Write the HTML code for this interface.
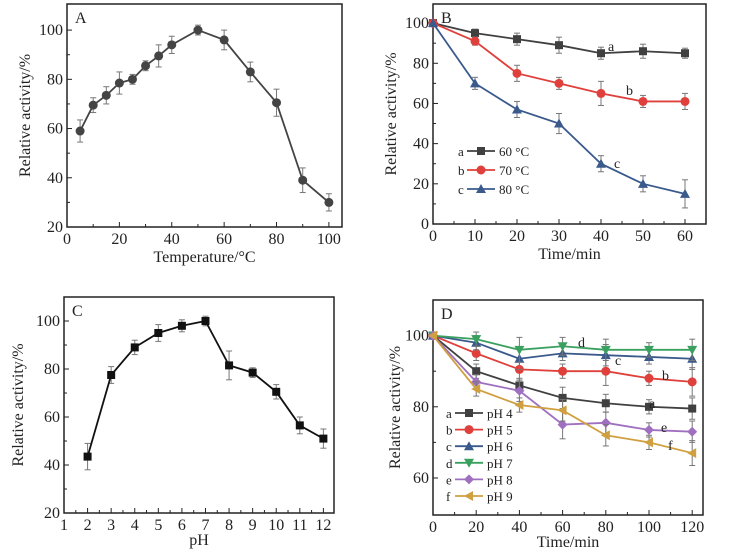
<!DOCTYPE html>
<html><head><meta charset="utf-8"><style>
body{margin:0;background:#fff;}
svg{display:block;font-family:"Liberation Serif",serif;}
</style></head><body>
<svg id="s" width="733" height="553" xmlns="http://www.w3.org/2000/svg"></svg>
<script>
const S=document.getElementById('s');let h='';
function panel(o){
 const sx=v=>o.L+(v-o.x0)/(o.x1-o.x0)*(o.R-o.L);
 const sy=v=>o.B-(v-o.y0)/(o.y1-o.y0)*(o.B-o.T);
 h+=`<rect x="${o.L}" y="${o.T}" width="${o.R-o.L}" height="${o.B-o.T}" fill="none" stroke="#222" stroke-width="1.5"/>`;
 o.xt.forEach(v=>{const x=sx(v);h+=`<line x1="${x}" y1="${o.B}" x2="${x}" y2="${o.B-5}" stroke="#222"/><text x="${x}" y="${o.B+17}" font-size="16" text-anchor="middle" fill="#222">${v}</text>`;});
 (o.xm||[]).forEach(v=>{const x=sx(v);h+=`<line x1="${x}" y1="${o.B}" x2="${x}" y2="${o.B-3}" stroke="#222"/>`;});
 o.yt.forEach(v=>{const y=sy(v);h+=`<line x1="${o.L}" y1="${y}" x2="${o.L+5}" y2="${y}" stroke="#222"/><text x="${o.L-4}" y="${y+5}" font-size="16" text-anchor="end" fill="#222">${v}</text>`;});
 (o.ym||[]).forEach(v=>{const y=sy(v);h+=`<line x1="${o.L}" y1="${y}" x2="${o.L+3}" y2="${y}" stroke="#222"/>`;});
 h+=`<text x="${o.L+8}" y="${o.T+19}" font-size="16" fill="#222">${o.lab}</text>`;
 h+=`<text x="${(o.L+o.R)/2}" y="${o.xly}" font-size="16" text-anchor="middle" fill="#222">${o.xl}</text>`;
 h+=`<text transform="translate(${o.ylx},${(o.T+o.B)/2}) rotate(-90)" font-size="16" text-anchor="middle" fill="#222">Relative activity/%</text>`;
 o.series.forEach(s=>{
  const pts=s.y.map((v,i)=>[sx(o.xs[i]),sy(v)]);
  s.y.forEach((v,i)=>{const e=(s.e||[])[i]||0;if(e){const x=sx(o.xs[i]);h+=`<g stroke="#777" stroke-width="1"><line x1="${x}" y1="${sy(v-e)}" x2="${x}" y2="${sy(v+e)}"/><line x1="${x-3}" y1="${sy(v-e)}" x2="${x+3}" y2="${sy(v-e)}"/><line x1="${x-3}" y1="${sy(v+e)}" x2="${x+3}" y2="${sy(v+e)}"/></g>`;}});
  h+=`<polyline points="${pts.map(p=>p.join(',')).join(' ')}" fill="none" stroke="${s.c}" stroke-width="1.8"/>`;
  pts.forEach(p=>h+=mk(s.m,p[0],p[1],s.c));
 });
}
function mk(m,x,y,c){const r=4.5;
 if(m=='o')return `<circle cx="${x}" cy="${y}" r="${r}" fill="${c}"/>`;
 if(m=='s')return `<rect x="${x-4}" y="${y-4}" width="8" height="8" fill="${c}"/>`;
 if(m=='^')return `<polygon points="${x},${y-5} ${x-5},${y+4} ${x+5},${y+4}" fill="${c}"/>`;
 if(m=='v')return `<polygon points="${x},${y+5} ${x-5},${y-4} ${x+5},${y-4}" fill="${c}"/>`;
 if(m=='d')return `<polygon points="${x},${y-5} ${x-5},${y} ${x},${y+5} ${x+5},${y}" fill="${c}"/>`;
 if(m=='<')return `<polygon points="${x-5},${y} ${x+4},${y-5} ${x+4},${y+5}" fill="${c}"/>`;}
function txt(x,y,t,fs){h+=`<text x="${x}" y="${y}" font-size="${fs||14}" fill="#222">${t}</text>`;}
function leg(x,y,l,t,m,c){txt(x,y+5,l,13);h+=`<line x1="${x+9}" y1="${y}" x2="${x+37}" y2="${y}" stroke="${c}" stroke-width="1.8"/>`+mk(m,x+23,y,c);txt(x+41,y+5,t,13);}
panel({L:67,R:342,T:4,B:227,x0:0,x1:105,y0:20,y1:110.6,xt:[0,20,40,60,80,100],xm:[10,30,50,70,90],yt:[20,40,60,80,100],ym:[30,50,70,90],lab:'A',xl:'Temperature/°C',xly:262,ylx:30,
 xs:[5,10,15,20,25,30,35,40,50,60,70,80,90,100],
 series:[{c:'#444',m:'o',y:[59,69.5,73.5,78.5,80,85.5,89.5,94,100,96,83,70.5,39,30],e:[4.5,3,3.5,4.5,2,2,4.5,3.5,2,4,4,5.5,5,3.5]}]});
panel({L:433,R:706,T:4,B:224,x0:0,x1:65,y0:0,y1:109.5,xt:[0,10,20,30,40,50,60],xm:[5,15,25,35,45,55],yt:[0,20,40,60,80,100],ym:[10,30,50,70,90],lab:'B',xl:'Time/min',xly:259,ylx:396,
 xs:[0,10,20,30,40,50,60],
 series:[{c:'#404040',m:'s',y:[100,95,92,89,85,86,85],e:[0,2,3,4,3,3.5,2.5]},
 {c:'#e0403c',m:'o',y:[100,91,75,70,65,61,61],e:[0,2,4,3,6,3,4]},
 {c:'#3a5a8c',m:'^',y:[100,70,57,50,30,20,15],e:[0,3,4,5,4,4,7]}]});
txt(608,51,'a');txt(626,95,'b');txt(614,168,'c');
leg(458,151,'a','60 °C','s','#404040');leg(458,170,'b','70 °C','o','#e0403c');leg(458,189,'c','80 °C','^','#3a5a8c');
panel({L:64,R:334,T:297,B:513,x0:1,x1:12.45,y0:20,y1:110,xt:[1,2,3,4,5,6,7,8,9,10,11,12],xm:[1.5,2.5,3.5,4.5,5.5,6.5,7.5,8.5,9.5,10.5,11.5],yt:[20,40,60,80,100],ym:[30,50,70,90],lab:'C',xl:'pH',xly:545,ylx:23,
 xs:[2,3,4,5,6,7,8,9,10,11,12],
 series:[{c:'#111',m:'s',y:[43.5,77.5,89,95,98,100,81.5,78.5,70.5,56.5,51],e:[5.5,3.5,3,3.5,2.5,2,6,2,3,3.5,4]}]});
panel({L:433,R:703,T:300,B:515,x0:0,x1:125,y0:49.6,y1:110,xt:[0,20,40,60,80,100,120],xm:[10,30,50,70,90,110],yt:[60,80,100],ym:[70,90],lab:'D',xl:'Time/min',xly:547,ylx:400,
 xs:[0,20,40,60,80,100,120],
 series:[{c:'#404040',m:'s',y:[100,90,86,82.5,81,80,79.5],e:[0,2,2,3,2.5,2,3]},
 {c:'#e0403c',m:'o',y:[100,95,90.5,90,90,88,87],e:[0,2,3,2,4,2,4]},
 {c:'#3a5a8c',m:'^',y:[100,98,93.5,95,94.5,94,93.5],e:[0,2,3,2,3,2,3]},
 {c:'#3aa060',m:'v',y:[100,99,96,97,96,96,96],e:[0,2,3.5,2.5,3,2,3]},
 {c:'#a070c0',m:'d',y:[100,87,84.5,75,75.5,73.5,73],e:[0,2,3,4,3,2,3]},
 {c:'#d0a040',m:'<',y:[100,85,80.5,79,72,70,67],e:[0,2,2,3,3,2,3.5]}]});
txt(578,347,'d');txt(615,365,'c');txt(662,380,'b');txt(649,408,'a');txt(661,432,'e');txt(668,450,'f');
[['a','pH 4','s','#404040'],['b','pH 5','o','#e0403c'],['c','pH 6','^','#3a5a8c'],['d','pH 7','v','#3aa060'],['e','pH 8','d','#a070c0'],['f','pH 9','<','#d0a040']].forEach((r,i)=>leg(446,413+i*16.6,r[0],r[1],r[2],r[3]));
S.innerHTML=h;
</script>
</body></html>
